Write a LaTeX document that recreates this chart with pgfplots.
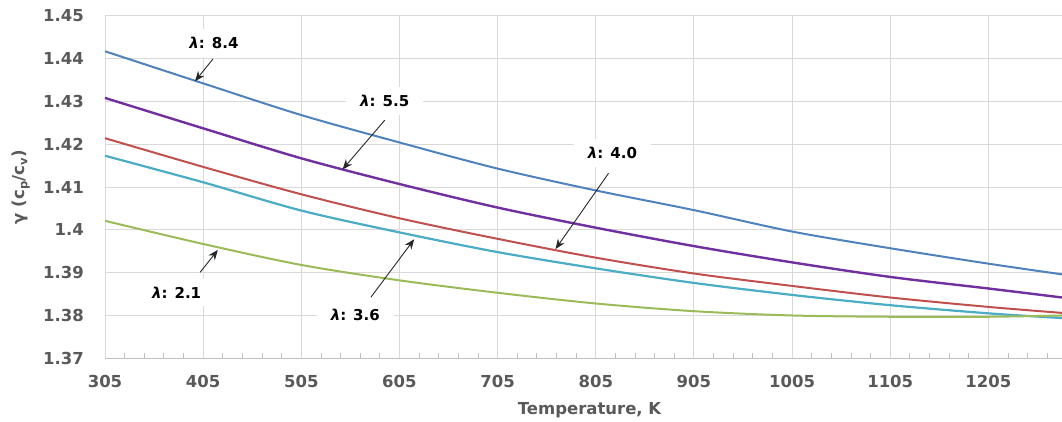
\documentclass[border=0pt]{standalone}
\usepackage{fontspec}
\setmainfont{DejaVu Sans}
\usepackage{pgfplots}
\pgfplotsset{compat=1.18}
\usetikzlibrary{arrows.meta}
\definecolor{cBlue}{HTML}{4F81BD}
\definecolor{cPurple}{HTML}{7030A0}
\definecolor{cRed}{HTML}{C0504D}
\definecolor{cCyan}{HTML}{4BACC6}
\definecolor{cGreen}{HTML}{9BBB59}
\definecolor{tickgray}{HTML}{595959}
\definecolor{gridgray}{HTML}{D9D9D9}
\definecolor{axgray}{HTML}{BFBFBF}
\begin{document}
\begin{tikzpicture}
\useasboundingbox (0,0) rectangle (1062pt,421pt);
\begin{axis}[
  at={(105pt,62.7pt)}, anchor=south west,
  scale only axis, width=957pt, height=342.6pt,
  xmin=305, xmax=1280, ymin=1.37, ymax=1.45,
  axis x line*=bottom, axis y line*=left,
  x axis line style={draw=axgray, line width=1pt},
  y axis line style={draw=gridgray, line width=1pt},
  xtick={305,405,505,605,705,805,905,1005,1105,1205},
  minor xtick={325,345,365,385,425,445,465,485,525,545,565,585,625,645,665,685,725,745,765,785,825,845,865,885,925,945,965,985,1025,1045,1065,1085,1125,1145,1165,1185,1225,1245,1265},
  ytick={1.37,1.38,1.39,1.4,1.41,1.42,1.43,1.44,1.45},
  yticklabels={1.37,1.38,1.39,1.4,1.41,1.42,1.43,1.44,1.45},
  xticklabels={305,405,505,605,705,805,905,1005,1105,1205},
  tick align=inside, major tick length=0pt, minor tick length=5pt,
  minor tick style={draw=axgray, line width=0.8pt},
  ytick style={draw=none},
  xmajorgrids, ymajorgrids,
  major grid style={draw=gridgray, line width=1pt},
  /pgf/number format/assume math mode=true,
  tick label style={font=\fontsize{16.5}{18}\selectfont\bfseries, text=tickgray},
  xticklabel style={anchor=north, inner sep=0pt, yshift=-17pt},
  yticklabel style={anchor=east, inner sep=0pt, xshift=-21pt},
  xlabel={Temperature, K},
  ylabel={γ (c\textsubscript{p}/c\textsubscript{v})},
  every axis x label/.style={at={(axis description cs:0.5063,-0.1509)}, anchor=center, font=\fontsize{16.5}{18}\selectfont\bfseries, text=tickgray},
  every axis y label/.style={at={(axis description cs:-0.0878,0.5)}, anchor=center, rotate=90, font=\fontsize{16.5}{18}\selectfont\bfseries, text=tickgray},
  clip=false,
]
% label boxes (cover gridlines)
\node[fill=white, inner xsep=14pt, inner ysep=8pt, font=\fontsize{15}{17}\selectfont\bfseries] at (axis cs:416,1.4436) {{\itshape λ}: 8.4};
\node[fill=white, inner xsep=14pt, inner ysep=8pt, font=\fontsize{15}{17}\selectfont\bfseries] at (axis cs:590,1.4301) {{\itshape λ}: 5.5};
\node[fill=white, inner xsep=14pt, inner ysep=8pt, font=\fontsize{15}{17}\selectfont\bfseries] at (axis cs:822,1.4179) {{\itshape λ}: 4.0};
\node[fill=white, inner xsep=14pt, inner ysep=8pt, font=\fontsize{15}{17}\selectfont\bfseries] at (axis cs:378,1.3854) {{\itshape λ}: 2.1};
\node[fill=white, inner xsep=14pt, inner ysep=8pt, font=\fontsize{15}{17}\selectfont\bfseries] at (axis cs:560,1.3801) {{\itshape λ}: 3.6};

\addplot[cBlue, line width=2pt, smooth] coordinates {
(305,1.4417) (405,1.4342) (505,1.4268) (605,1.4204) (705,1.4143) (805,1.4092) (905,1.4046) (1005,1.3996) (1105,1.3957) (1205,1.3921) (1280,1.3896)};
\addplot[cPurple, line width=2.4pt, smooth] coordinates {
(305,1.4308) (405,1.4237) (505,1.4167) (605,1.4107) (705,1.4052) (805,1.4005) (905,1.3962) (1005,1.3924) (1105,1.3890) (1205,1.3863) (1280,1.3842)};
\addplot[cRed, line width=2pt, smooth] coordinates {
(305,1.4214) (405,1.4147) (505,1.4083) (605,1.4027) (705,1.3979) (805,1.3935) (905,1.3898) (1005,1.3869) (1105,1.3842) (1205,1.3820) (1280,1.3806)};
\addplot[cCyan, line width=2.2pt, smooth] coordinates {
(305,1.4173) (405,1.4111) (505,1.4045) (605,1.3994) (705,1.3948) (805,1.3910) (905,1.3876) (1005,1.3848) (1105,1.3824) (1205,1.3805) (1280,1.3794)};
\addplot[cGreen, line width=2pt, smooth] coordinates {
(305,1.4021) (405,1.3967) (505,1.3918) (605,1.3882) (705,1.3853) (805,1.3828) (905,1.3810) (1005,1.3800) (1105,1.3797) (1205,1.3797) (1280,1.3800)};

% arrows
\tikzset{annarrow/.style={-{Stealth[length=10pt,width=8pt]}, line width=0.9pt, black!85}}
\draw[annarrow] (axis cs:415,1.4399) -- (axis cs:396.7,1.4347);
\draw[annarrow] (axis cs:590,1.4256) -- (axis cs:547,1.4141);
\draw[annarrow] (axis cs:818,1.4132) -- (axis cs:764,1.3955);
\draw[annarrow] (axis cs:402,1.3901) -- (axis cs:420,1.3953);
\draw[annarrow] (axis cs:576,1.3843) -- (axis cs:620,1.3978);
\end{axis}
\end{tikzpicture}
\end{document}
